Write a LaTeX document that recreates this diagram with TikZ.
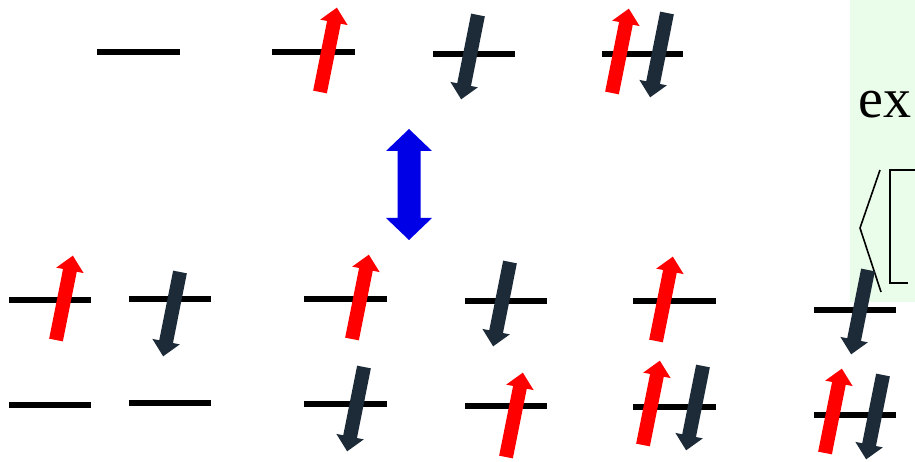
\documentclass[tikz,border=0pt]{standalone}
\usepackage{fontspec}
\setmainfont{Liberation Serif}
\definecolor{spinred}{RGB}{255,0,0}
\definecolor{spindark}{RGB}{29,43,56}
\definecolor{exblue}{RGB}{0,0,230}
\definecolor{boxgreen}{RGB}{234,252,234}
\tikzset{
  level/.style={line width=6pt, black},
  upspin/.pic={\fill[spinred] (-7,0) -- (7,0) -- (7,-71) -- (14,-71) -- (0,-86) -- (-14,-71) -- (-7,-71) -- cycle;},
  downspin/.pic={\fill[spindark] (-7,0) -- (7,0) -- (7,71) -- (14,71) -- (0,86) -- (-14,71) -- (-7,71) -- cycle;},
  tilt/.style={rotate=-11.3}
}
\begin{document}
\begin{tikzpicture}[x=1pt,y=-1pt]
\useasboundingbox (0,0) rectangle (915,462);
% green box (partly visible)
\fill[boxgreen] (850,0) rectangle (915,302);
\node[anchor=base west, inner sep=0, font=\fontsize{56}{56}\selectfont] (ex) at (858,118) {ex};
\draw[line width=1.6pt] (880,170) -- (860,228) -- (881,292);
\draw[line width=1.9pt] (915,170) -- (890,170) -- (890,283) -- (908,283);
% levels, top row
\draw[level] (97,52) -- (180,52);
\draw[level] (272,52) -- (355,52);
\draw[level] (433,54) -- (515,54);
\draw[level] (602,54) -- (683,54);
% levels, bottom row upper
\draw[level] (9,300) -- (91,300);
\draw[level] (129,299) -- (211,299);
\draw[level] (304,299) -- (387,299);
\draw[level] (465,301) -- (547,301);
\draw[level] (633,301) -- (716,301);
\draw[level] (814,310) -- (896,310);
% levels, bottom row lower
\draw[level] (9,405) -- (91,405);
\draw[level] (129,403) -- (211,403);
\draw[level] (304,404) -- (387,404);
\draw[level] (465,406) -- (547,406);
\draw[level] (633,407) -- (716,407);
\draw[level] (814,415) -- (896,415);
% up spins
\pic[tilt] at (320,92) {upspin};
\pic[tilt] at (612,93) {upspin};
\pic[tilt] at (56,340) {upspin};
\pic[tilt] at (352,339) {upspin};
\pic[tilt] at (506,457) {upspin};
\pic[tilt] at (656,341) {upspin};
\pic[tilt] at (643,445) {upspin};
\pic[tilt] at (825,453) {upspin};
% down spins
\pic[tilt] at (478,15) {downspin};
\pic[tilt] at (667,13) {downspin};
\pic[tilt] at (180,272) {downspin};
\pic[tilt] at (510,262) {downspin};
\pic[tilt] at (364,367) {downspin};
\pic[tilt] at (703,366) {downspin};
\pic[tilt] at (868,270) {downspin};
\pic[tilt] at (883,375) {downspin};
% blue double arrow
\fill[exblue] (409,129) -- (432,151) -- (420.5,151) -- (420.5,218) -- (432,218) -- (409,240) -- (386,218) -- (397.5,218) -- (397.5,151) -- (386,151) -- cycle;
\end{tikzpicture}
\end{document}
